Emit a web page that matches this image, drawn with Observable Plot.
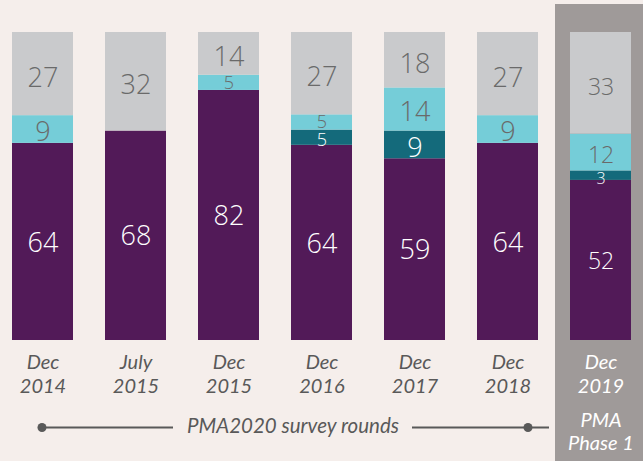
<!DOCTYPE html>
<html><head><meta charset="utf-8">
<script src="https://cdn.jsdelivr.net/npm/d3@7"></script>
<script src="https://cdn.jsdelivr.net/npm/@observablehq/plot@0.6"></script>
<style>
html,body{margin:0;padding:0;background:#f5eeeb;}
#chart{width:643px;height:461px;overflow:hidden;}
</style></head><body><div id="chart"></div>
<script>
// ---- data ----
const rounds = ["Dec 2014","July 2015","Dec 2015","Dec 2016","Dec 2017","Dec 2018","Dec 2019"];
const roundLabels = ["Dec\n2014","July\n2015","Dec\n2015","Dec\n2016","Dec\n2017","Dec\n2018","Dec\n2019"];
const phaseLabel = "PMA\nPhase 1";
const surveyLabel = "PMA2020 survey rounds";
const seriesNames = ["Segment 1","Segment 2","Segment 3","Segment 4"];
const purpleValues = [64, 68, 82, 64, 59, 64, 52];
const tealValues   = [0, 0, 0, 5, 9, 0, 3];
const cyanValues   = [9, 0, 5, 5, 14, 9, 12];
const grayValues   = [27, 32, 14, 27, 18, 27, 33];

// ---- styles ----
const seriesColors = ["#521a58","#146a7b","#75cdd8","#c9cacc"];
const numFont = "'Open Sans', sans-serif";
const labFont = "Lato, sans-serif";

const seriesValues = [purpleValues, tealValues, cyanValues, grayValues];
const rows = [];
rounds.forEach((r, i) => {
  const total = d3.sum(seriesValues, s => s[i]);
  let acc = 0;
  seriesValues.forEach((s, k) => {
    const v = s[i];
    rows.push({round: r, idx: i, series: seriesNames[k], k, value: v, y1: acc / total, y2: (acc + v) / total});
    acc += v;
  });
});
const segs = rows.filter(d => d.value > 0);
const phase1 = rounds[rounds.length - 1];
const lastIdx = rounds.length - 1;
const fs = d => (d.idx === lastIdx ? (d.value <= 5 ? 16 : 23) : (d.value <= 5 ? 18 : 27));
const mid = d => (d.y1 + d.y2) / 2;
const labelRows = rounds.map((r, i) => ({round: r, label: roundLabels[i]}));

const numText = (data, fill, dy) => Plot.text(data, {x: "round", y: mid, text: "value", fill, dy,
  fontSize: fs, fontFamily: numFont, fontWeight: 300, lineAnchor: "middle"});

const chart = Plot.plot({
  width: 643, height: 461,
  marginTop: 32, marginBottom: 121, marginLeft: 0, marginRight: 0,
  style: {background: "transparent", overflow: "visible"},
  x: {domain: rounds, range: [9, 634], paddingInner: 0.34, paddingOuter: 0, axis: null},
  y: {domain: [0, 1], axis: null},
  color: {domain: seriesNames, range: seriesColors},
  marks: [
    Plot.barY([phase1], {x: d => d, y1: 0, y2: 1, fill: "#9f9a99", insetTop: -28, insetBottom: -125, insetLeft: -15, insetRight: -12}),
    Plot.barY(segs, {x: "round", y1: "y1", y2: "y2", fill: "series"}),
    numText(segs.filter(d => d.k === 0), "#ffffff", 1),
    numText(segs.filter(d => d.k === 1), "#ffffff", 3),
    numText(segs.filter(d => d.k === 2 && d.value > 5), "#6a6a6a", 3),
    numText(segs.filter(d => d.k === 2 && d.value <= 5), "#6a6a6a", 0),
    numText(segs.filter(d => d.k === 3), "#6a6a6a", 4),
    Plot.text(labelRows, {x: "round", text: "label", frameAnchor: "bottom", lineAnchor: "top", dy: 11.5, lineHeight: 1.2,
      fill: d => d.round === phase1 ? "#ffffff" : "#595959", fontSize: 20, fontFamily: labFont, fontStyle: "italic"}),
    Plot.text([phase1], {x: d => d, text: () => phaseLabel, frameAnchor: "bottom", lineAnchor: "top", dy: 70.5, lineHeight: 1.15,
      fill: "#ffffff", fontSize: 20, fontFamily: labFont, fontStyle: "italic"}),
    Plot.ruleY([0], {x1: () => rounds[0], x2: () => rounds[1], dy: 87, insetLeft: 30, insetRight: -7, stroke: "#595959", strokeWidth: 2}),
    Plot.ruleY([0], {x1: () => rounds[4], x2: () => rounds[5], dy: 87, insetLeft: 28, insetRight: -11, stroke: "#595959", strokeWidth: 2}),
    Plot.dot([rounds[0]], {x: d => d, frameAnchor: "bottom", dy: 87, dx: -1, r: 4.5, fill: "#595959"}),
    Plot.dot([rounds[5]], {x: d => d, frameAnchor: "bottom", dy: 87, dx: 20, r: 4.5, fill: "#595959"}),
    Plot.text([surveyLabel], {x: () => rounds[3], text: d => d, frameAnchor: "bottom", lineAnchor: "middle", dy: 86, dx: -29,
      fill: "#595959", fontSize: 20.5, fontFamily: labFont, fontStyle: "italic"})
  ]
});
document.getElementById("chart").appendChild(chart);
</script></body></html>
